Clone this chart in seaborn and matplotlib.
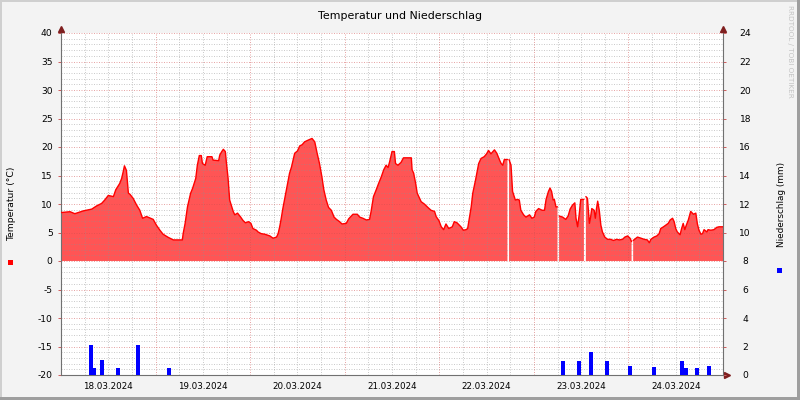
import numpy as np
import pandas as pd
import seaborn as sns
import matplotlib
matplotlib.use("Agg")
from matplotlib import pyplot as plt
from matplotlib.patches import Rectangle

# hours since 18.03.2024 00:00
day_labels = ['18.03.2024', '19.03.2024', '20.03.2024', '21.03.2024',
              '22.03.2024', '23.03.2024', '24.03.2024']

temp_hours = [
    0, 2.3, 3.5, 4.4, 5.7, 7.8, 9.0, 10.3, 11.1, 12.0, 13.3, 13.9, 14.9, 15.4,
    15.8, 16.1, 16.6, 17.1, 17.5, 18.3, 19.2, 20.0, 20.7, 21.7, 23.4, 24.2,
    25.1, 25.9, 27.2, 28.5, 30.8, 31.0, 31.5, 32.1, 32.5, 32.9, 33.4, 33.8,
    34.2, 34.6, 35.1, 35.6, 35.9, 36.6, 37.1, 38.3, 38.6, 40.0, 40.3, 40.8,
    41.2, 41.7, 42.0, 42.4, 42.8, 43.2, 43.7, 44.1, 44.8, 45.6, 46.2, 46.8,
    47.6, 48.2, 48.7, 49.6, 50.0, 50.8, 51.7, 53.0, 53.8, 54.7, 55.1, 55.5,
    55.9, 56.3, 56.8, 57.2, 57.6, 58.0, 58.5, 58.9, 59.3, 60.0, 60.6, 61.2,
    61.8, 62.7, 63.7, 64.4, 65.0, 65.6, 66.2, 66.7, 67.3, 67.9, 68.6, 69.3,
    69.9, 70.7, 71.3, 72.4, 73.0, 74.1, 75.2, 75.8, 76.6, 77.5, 78.3, 78.7,
    79.3, 80.0, 80.6, 81.3, 81.9, 82.5, 83.0, 83.4, 84.0, 84.6, 84.9, 85.5,
    86.3, 86.9, 88.9, 89.1, 89.5, 90.0, 90.4, 91.0, 91.4, 92.2, 93.1, 93.9,
    94.8, 95.2, 95.9, 96.5, 97.1, 97.7, 98.4, 99.3, 99.8, 100.5, 101.5, 102.1,
    102.8, 103.2, 103.7, 104.1, 104.5, 105.2, 105.6, 106.0, 106.6, 107.4,
    108.0, 108.5, 109.1, 110.0, 110.6, 111.3, 111.7, 112.1, 112.5, 113.3,
    113.5, 113.7, 114.2, 114.6, 115.3, 115.9, 116.3, 116.7, 117.4, 118.0,
    118.9, 119.5, 120.1, 120.5, 121.2, 122.1, 122.7, 123.1, 123.7, 124.1,
    124.5, 124.9, 125.2, 125.6, 126.0, 126.2, 126.4, 127.3, 128.1, 128.7,
    129.2, 129.8, 130.4, 130.7, 131.1, 131.5, 131.9, 132.7, 132.95, 133.2,
    133.6, 134.1, 134.4, 134.7, 135.3, 135.6, 135.9, 136.2, 136.6, 137.0,
    137.4, 138.0, 138.7, 139.5, 140.2, 141.0, 141.7, 142.5, 143.1, 143.8,
    144.4, 144.8, 145.0, 145.2, 146.3, 147.2, 148.0, 148.8, 149.3, 149.7,
    150.5, 151.2, 151.8, 152.2, 152.9, 153.5, 154.1, 154.6, 155.2, 155.6,
    156.0, 156.4, 157.1, 157.5, 157.9, 158.3, 158.7, 159.2, 159.8, 160.5,
    161.1, 161.5, 161.9, 162.4, 162.8, 163.2, 163.9, 164.2, 164.9, 165.7,
    166.4, 167.0, 168.0,
]
temp_values = [
    8.5, 8.65, 8.3, 8.5, 8.8, 9.1, 9.65, 10.1, 10.7, 11.5, 11.3, 12.5, 13.6, 14.5,
    15.7, 16.7, 15.9, 11.9, 11.7, 11.0, 9.8, 8.9, 7.5, 7.8, 7.3, 6.3,
    5.4, 4.7, 4.15, 3.7, 3.7, 4.8, 6.6, 9.5, 10.7, 11.9, 12.75, 13.6,
    14.5, 16.8, 18.5, 18.5, 17.1, 16.8, 18.3, 18.3, 17.7, 17.6, 18.6, 19.2,
    19.6, 19.2, 17.1, 14.5, 10.7, 9.8, 8.7, 8.1, 8.4, 7.7, 7.1, 6.7,
    6.9, 6.6, 5.7, 5.4, 5.1, 4.8, 4.7, 4.4, 4.0, 4.2, 4.8, 6.0,
    7.5, 9.2, 11.0, 12.5, 13.9, 15.4, 16.5, 17.7, 18.9, 19.3, 20.2, 20.4,
    20.9, 21.2, 21.5, 20.9, 18.9, 17.1, 14.8, 12.5, 10.7, 9.4, 8.9, 7.7,
    7.3, 6.9, 6.5, 6.6, 7.4, 8.2, 8.2, 7.7, 7.5, 7.2, 7.3, 8.7,
    11.3, 12.5, 13.6, 14.8, 16.0, 16.8, 16.4, 17.4, 19.2, 19.2, 17.1, 16.8,
    17.3, 18.1, 18.1, 16.0, 15.4, 13.6, 11.9, 11.0, 10.4, 10.0, 9.4, 8.9,
    8.7, 7.8, 7.1, 6.0, 5.5, 6.5, 5.7, 6.0, 6.9, 6.7, 6.0, 5.4,
    5.5, 5.7, 7.8, 9.5, 11.9, 14.2, 15.7, 17.1, 18.0, 18.3,
    18.8, 19.4, 18.8, 19.5, 18.9, 17.7, 17.1, 16.8, 17.8, 17.8,
    np.nan, 17.8, 16.8, 12.2, 10.7, 10.8, 10.7, 8.9, 8.1, 7.7,
    8.1, 7.5, 7.7, 8.7, 9.2, 8.9, 8.9, 10.8, 12.2, 12.8,
    12.2, 10.7, 10.8, 9.5, 9.5, np.nan, 7.9, 7.7, 7.3, 7.9,
    9.1, 9.8, 10.2, 7.5, 6.0, 8.1, 10.8, 10.8, np.nan, 11.3,
    11.0, 6.6, 7.7, 9.2, 8.9, 7.5, 9.2, 10.5, 8.9, 6.3,
    5.1, 4.2, 3.8, 3.8, 3.6, 3.8, 3.7, 3.8, 4.2, 4.4,
    4.0, 3.4, np.nan, 3.6, 4.2, 4.0, 3.8, 3.7, 3.2, 3.8,
    4.2, 4.4, 4.8, 5.7, 6.0, 6.3, 6.6, 7.2, 7.5, 6.9,
    5.7, 5.1, 4.6, 5.7, 6.6, 5.5, 6.3, 7.2, 8.7, 8.2,
    8.4, 6.5, 5.4, 4.7, 4.8, 5.5, 5.1, 5.5, 5.4, 5.5,
    5.9, 6.0, 6.0,
]

rain_hours = [7, 8, 10, 14, 19, 27, 127, 131, 134, 138, 144, 150, 157, 158, 161, 164]
rain_mm = [2.1, 0.5, 1.05, 0.5, 2.1, 0.5, 1.0, 1.0, 1.6, 1.0, 0.6, 0.55, 1.0, 0.5, 0.5, 0.6]

temp_ticks = list(range(-20, 41, 5))
rain_ticks = list(range(0, 25, 2))

sns.set_style("white")
plt.rcParams['font.family'] = ['DejaVu Sans']
plt.rcParams['axes.unicode_minus'] = False
plt.rcParams['text.color'] = 'black'

df = pd.DataFrame({'hour': temp_hours, 'temp': temp_values})
df['seg'] = df['temp'].isna().cumsum()
line_df = df.dropna()

W, H = 800, 400
fig = plt.figure(figsize=(8, 4), dpi=100, facecolor='#F3F3F3')
ax = fig.add_axes([61 / W, 25 / H, 662 / W, 342 / H])
ax.set_facecolor('white')

# temperature area + line
ax.fill_between(df['hour'], 0, df['temp'], color='#FF5555', linewidth=0, zorder=1)
sns.lineplot(data=line_df, x='hour', y='temp', units='seg', estimator=None,
             color='#FF0000', linewidth=1.0, ax=ax, legend=False, zorder=3)

ax.set_xlim(0, 168)
ax.set_ylim(-20, 40)

# dotted grid on top of the area, like rrdtool
dots = (0, (1, 1.5))
minor_kw = dict(color='#8F8F8F', lw=0.72, ls=dots, alpha=0.45, zorder=2.5)
major_kw = dict(color='#D05050', lw=0.72, ls=dots, alpha=0.5, zorder=2.5)
for v in range(-20, 41):
    ax.axhline(v, **(major_kw if v % 5 == 0 else minor_kw))
for h in range(6, 168, 6):
    ax.axvline(h, **(major_kw if h % 24 == 0 else minor_kw))

ax.set_xticks([12 + 24 * i for i in range(len(day_labels))])
ax.set_xticklabels(day_labels)
ax.set_xticks(list(range(0, 169, 6)), minor=True)
ax.set_yticks(temp_ticks)
ax.set_xlabel('')
ax.set_ylabel('')
ax.tick_params(axis='x', which='major', length=0, pad=5, labelsize=6.3, labelcolor='black')
ax.tick_params(axis='x', which='minor', length=2, width=0.72, color='#C08080', direction='out')
ax.tick_params(axis='y', which='major', length=2, width=0.72, color='#D06060',
               direction='out', pad=4, labelsize=6.6, labelcolor='black')

for side in ['top', 'right']:
    ax.spines[side].set_visible(False)
for side in ['left', 'bottom']:
    ax.spines[side].set_color('#707070')
    ax.spines[side].set_linewidth(0.8)

# precipitation on right axis
ax2 = ax.twinx()
ax2.bar(rain_hours, rain_mm, width=1.0, align='edge', color='#0000FF', linewidth=0, zorder=4)
ax2.set_ylim(0, 24)
ax2.set_yticks(rain_ticks)
ax2.tick_params(axis='y', length=2, width=0.72, color='#D06060', direction='out',
                pad=14, labelsize=6.6, labelcolor='black')
for lab in ax2.get_yticklabels():
    lab.set_horizontalalignment('center')
for side in ['top', 'left', 'bottom']:
    ax2.spines[side].set_visible(False)
ax2.spines['right'].set_color('#707070')
ax2.spines['right'].set_linewidth(0.8)
ax2.patch.set_visible(False)

# axis arrows
arrow_col = '#7F1F1F'
ax.plot([0], [1.012], marker='^', ms=4, color=arrow_col, transform=ax.transAxes, clip_on=False)
ax.plot([1], [1.012], marker='^', ms=4, color=arrow_col, transform=ax.transAxes, clip_on=False)
ax.plot([1.006], [0], marker='>', ms=4, color=arrow_col, transform=ax.transAxes, clip_on=False)

# texts
fig.text(0.5, 1 - 16 / H, 'Temperatur und Niederschlag', ha='center', va='center', fontsize=7.9)
fig.text(12 / W, 1 - 204 / H, 'Temperatur (°C)', rotation=90, ha='center', va='center', fontsize=6.7)
fig.text(781 / W, 1 - 204 / H, 'Niederschlag (mm)', rotation=90, ha='center', va='center', fontsize=6.4)
fig.text(790 / W, 1 - 5 / H, 'RRDTOOL / TOBI OETIKER', rotation=270, ha='center', va='top',
         fontsize=5.2, color='#C4C4C4')

# legend squares
fig.add_artist(Rectangle((8 / W, 1 - 265 / H), 5 / W, 5 / H, transform=fig.transFigure,
                         color='#FF0000', lw=0))
fig.add_artist(Rectangle((777 / W, 1 - 273 / H), 5 / W, 5 / H, transform=fig.transFigure,
                         color='#0000FF', lw=0))

# rrdtool style frame
fig.add_artist(Rectangle((0, 1 - 2 / H), 1, 2 / H, transform=fig.transFigure, color='#CFCFCF', lw=0))
fig.add_artist(Rectangle((0, 0), 2 / W, 1, transform=fig.transFigure, color='#CFCFCF', lw=0))
fig.add_artist(Rectangle((0, 0), 1, 3 / H, transform=fig.transFigure, color='#9E9E9E', lw=0))
fig.add_artist(Rectangle((1 - 3 / W, 0), 3 / W, 1, transform=fig.transFigure, color='#9E9E9E', lw=0))

fig.savefig('out.png', dpi=100, facecolor=fig.get_facecolor())
